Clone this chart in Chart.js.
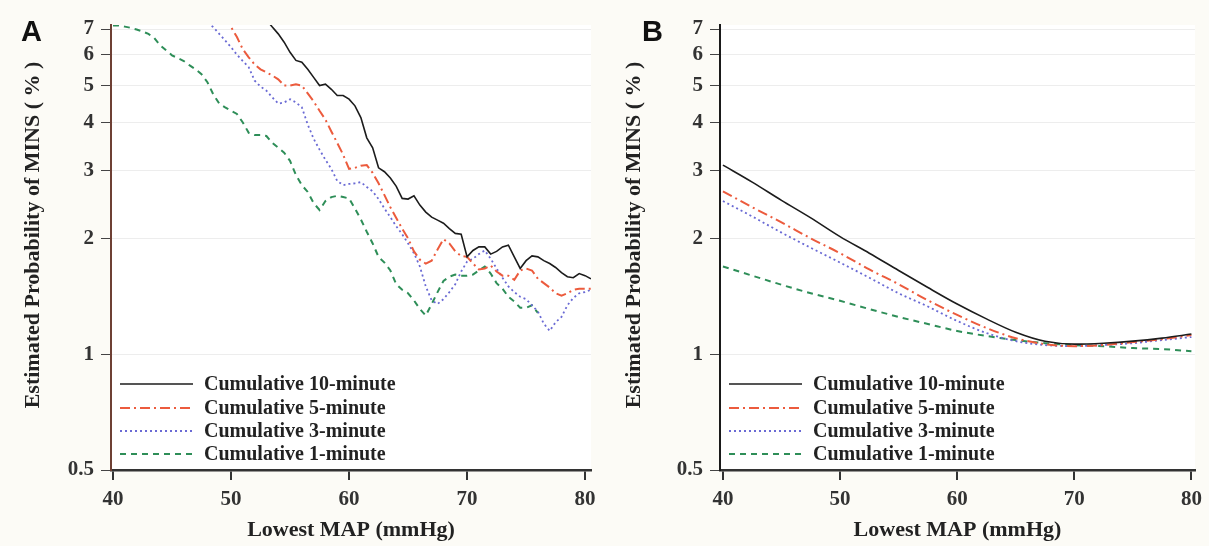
<!DOCTYPE html>
<html>
<head>
<meta charset="utf-8">
<script src="https://cdn.jsdelivr.net/npm/chart.js@4.4.1/dist/chart.umd.min.js"></script>
<style>
  html, body { margin: 0; padding: 0; background: #fcfbf6; }
  #wrap { position: relative; width: 1209px; height: 546px; }
  canvas { position: absolute; top: 0; }
  #panelA { left: 0; }
  #panelB { left: 604px; }
</style>
</head>
<body>
<div id="wrap">
  <canvas id="panelA" width="604" height="546"></canvas>
  <canvas id="panelB" width="605" height="546"></canvas>
</div>
<script>
// panel A: lowest MAP grid, 0.5 mmHg steps
const xA = [
  40, 40.5, 41, 41.5, 42, 42.5, 43, 43.5, 44, 44.5, 45, 45.5, 46, 46.5, 47, 47.5,
  48, 48.5, 49, 49.5, 50, 50.5, 51, 51.5, 52, 52.5, 53, 53.5, 54, 54.5, 55, 55.5,
  56, 56.5, 57, 57.5, 58, 58.5, 59, 59.5, 60, 60.5, 61, 61.5, 62, 62.5, 63, 63.5,
  64, 64.5, 65, 65.5, 66, 66.5, 67, 67.5, 68, 68.5, 69, 69.5, 70, 70.5, 71, 71.5,
  72, 72.5, 73, 73.5, 74, 74.5, 75, 75.5, 76, 76.5, 77, 77.5, 78, 78.5, 79, 79.5,
  80, 80.5,
];
const blackA = [
  null, null, null, null, null, null, null, null, null, null, null, null, null,
  null, null, null, null, null, null, null, null, null, null, null, null,
  8.2, 7.4, 7.08, 6.8, 6.47, 6.09, 5.8, 5.74, 5.5, 5.24,
  4.99, 5.03, 4.88, 4.7, 4.7, 4.6, 4.42, 4.12, 3.65, 3.44,
  3.05, 2.98, 2.87, 2.73, 2.54, 2.53, 2.58, 2.44, 2.34, 2.27,
  2.23, 2.19, 2.12, 2.06, 2.05, 1.79, 1.86, 1.9, 1.9, 1.82,
  1.85, 1.9, 1.92, 1.79, 1.67, 1.75, 1.8, 1.79, 1.75, 1.72,
  1.68, 1.63, 1.59, 1.58, 1.62, 1.6, 1.57,
];
const redA = [
  null, null, null, null, null, null, null, null, null, null, null, null, null,
  null, null, null, null, null,
  8.5, 7.6, 7.08, 6.67, 6.2, 5.91, 5.66, 5.5, 5.4, 5.3,
  5.18, 4.99, 4.99, 5.03, 4.99, 4.76, 4.54, 4.29, 4.07, 3.79,
  3.54, 3.3, 3.03, 3.05, 3.09, 3.1, 2.96, 2.78, 2.59, 2.41,
  2.26, 2.12, 2.0, 1.85, 1.76, 1.72, 1.75, 1.87, 1.99, 1.94,
  1.85, 1.8, 1.79, 1.72, 1.66, 1.67, 1.7, 1.64, 1.6, 1.6,
  1.56, 1.65, 1.67, 1.65, 1.57, 1.53, 1.49, 1.44, 1.42, 1.44,
  1.47, 1.48, 1.48, 1.48,
];
const blueA = [
  null, null, null, null, null, null, null, null, null, null, null, null, null, null,
  8.5, 7.5, 7.25, 7.08, 6.8, 6.54, 6.28, 6.0, 5.78, 5.57,
  5.14, 4.96, 4.84, 4.65, 4.48, 4.51, 4.6, 4.51, 4.38, 3.95,
  3.63, 3.4, 3.2, 3.03, 2.82, 2.75, 2.77, 2.78, 2.8, 2.72,
  2.65, 2.53, 2.39, 2.27, 2.15, 2.05, 1.94, 1.83, 1.69, 1.5,
  1.38, 1.35, 1.39, 1.45, 1.52, 1.64, 1.74, 1.77, 1.82, 1.86,
  1.77, 1.67, 1.58, 1.5, 1.45, 1.41, 1.39, 1.34, 1.29, 1.2,
  1.15, 1.21, 1.25, 1.34, 1.4, 1.44, 1.45, 1.47,
];
const greenA = [
  7.15, 7.15, 7.1, 7.05, 6.98, 6.9, 6.8, 6.63, 6.35, 6.16,
  5.98, 5.88, 5.78, 5.63, 5.5, 5.34, 5.09, 4.73, 4.48, 4.38,
  4.29, 4.21, 4.0, 3.76, 3.71, 3.71, 3.69, 3.54, 3.44, 3.34,
  3.18, 2.92, 2.75, 2.64, 2.47, 2.37, 2.5, 2.56, 2.58, 2.56,
  2.54, 2.39, 2.24, 2.08, 1.94, 1.79, 1.73, 1.65, 1.52, 1.47,
  1.44, 1.38, 1.31, 1.26, 1.35, 1.45, 1.55, 1.59, 1.61, 1.6,
  1.6, 1.61, 1.65, 1.69, 1.62, 1.53, 1.48, 1.41, 1.37, 1.32,
  1.32, 1.34, 1.28,
  null, null, null, null, null, null, null, null, null,
];

// panel B: smooth model curves, 2.5 mmHg steps
const xB = [40, 42.5, 45, 47.5, 50, 52.5, 55, 57.5, 60, 62.5, 65, 67.5, 70, 72.5, 75, 77.5, 80];
const blackB = [3.1, 2.8, 2.51, 2.26, 2.02, 1.83, 1.65, 1.49, 1.35, 1.235, 1.14, 1.08, 1.062, 1.068, 1.081, 1.101, 1.128];
const redB = [2.65, 2.41, 2.2, 2.0, 1.83, 1.66, 1.52, 1.38, 1.265, 1.17, 1.1, 1.062, 1.049, 1.056, 1.075, 1.094, 1.121];
const blueB = [2.5, 2.28, 2.07, 1.89, 1.73, 1.58, 1.44, 1.33, 1.22, 1.135, 1.081, 1.056, 1.049, 1.056, 1.068, 1.088, 1.108];
const greenB = [1.69, 1.6, 1.515, 1.44, 1.376, 1.31, 1.25, 1.198, 1.149, 1.115, 1.088, 1.068, 1.056, 1.049, 1.037, 1.031, 1.018];

const seriesNames = ["Cumulative 10-minute", "Cumulative 5-minute", "Cumulative 3-minute", "Cumulative 1-minute"];
const yTicks = [0.5, 1, 2, 3, 4, 5, 6, 7];
const xTicks = [40, 50, 60, 70, 80];

const serif = '"Liberation Serif", "Times New Roman", Times, serif';

const styles = [
  { borderColor: "#1c1c1c", borderWidth: 1.6, borderDash: [] },
  { borderColor: "#ec5b3d", borderWidth: 2, borderDash: [10, 4, 2, 4] },
  { borderColor: "#6a6ad4", borderWidth: 1.8, borderDash: [2, 3] },
  { borderColor: "#2e8e58", borderWidth: 2, borderDash: [6, 5] },
];

// legend inside plot, y title and panel letter
const decor = {
  id: "decor",
  beforeDraw(chart) {
    const { ctx, chartArea } = chart;
    ctx.save();
    ctx.fillStyle = "#ffffff";
    ctx.fillRect(chartArea.left, chartArea.top, chartArea.right - chartArea.left, chartArea.bottom - chartArea.top);
    ctx.restore();
  },
  afterDraw(chart, args, opts) {
    const { ctx, chartArea } = chart;
    ctx.save();
    chart.data.datasets.forEach((ds, i) => {
      const y = chartArea.bottom - opts.rows[i];
      ctx.beginPath();
      ctx.strokeStyle = ds.borderColor;
      ctx.lineWidth = ds.borderWidth;
      ctx.setLineDash(ds.borderDash);
      ctx.moveTo(chartArea.left + 9, y);
      ctx.lineTo(chartArea.left + 82, y);
      ctx.stroke();
      ctx.setLineDash([]);
      ctx.fillStyle = "#222";
      ctx.font = "bold 20px " + serif;
      ctx.textBaseline = "middle";
      ctx.textAlign = "left";
      ctx.fillText(ds.label, chartArea.left + 93, y + 1);
    });

    ctx.fillStyle = "#111";
    ctx.font = 'bold 29px "Liberation Sans", Arial, sans-serif';
    ctx.textBaseline = "alphabetic";
    ctx.fillText(opts.letter, opts.letterX, 41);

    ctx.translate(opts.titleX, opts.titleY);
    ctx.rotate(-Math.PI / 2);
    ctx.textAlign = "center";
    ctx.textBaseline = "middle";
    ctx.fillStyle = "#222";
    ctx.font = "bold 22px " + serif;
    ctx.fillText("Estimated Probability of MINS ( % )", 0, 0);
    ctx.restore();
  },
};

function makePanel(id, xs, ys, cfg) {
  return new Chart(document.getElementById(id), {
    type: "line",
    data: {
      datasets: ys.map((vals, k) => ({
        label: seriesNames[k],
        data: xs.map((x, i) => ({ x: x, y: vals[i] })),
        borderColor: styles[k].borderColor,
        borderWidth: styles[k].borderWidth,
        borderDash: styles[k].borderDash,
        pointRadius: 0,
        fill: false,
        tension: cfg.smooth ? 0.4 : 0,
        cubicInterpolationMode: cfg.smooth ? "monotone" : "default",
      })),
    },
    options: {
      responsive: false,
      animation: false,
      devicePixelRatio: 1,
      layout: {
        padding: { top: 25, right: cfg.padRight, bottom: 0, left: 0 },
      },
      plugins: {
        legend: { display: false },
        tooltip: { enabled: false },
        decor: {
          rows: [86, 62, 39, 16],
          letter: cfg.letter,
          letterX: cfg.letterX,
          titleX: cfg.titleX,
          titleY: 235,
        },
      },
      scales: {
        x: {
          type: "linear",
          min: cfg.xMin,
          max: cfg.xMax,
          afterBuildTicks: (s) => {
            s.ticks = xTicks.map((v) => ({ value: v }));
          },
          afterFit: (s) => {
            s.height = 76;
          },
          ticks: {
            autoSkip: false,
            padding: 7,
            color: "#333",
            font: { family: serif, size: 21, weight: "bold" },
          },
          grid: {
            drawOnChartArea: false,
            drawTicks: true,
            tickLength: 10,
            tickColor: "#333",
            lineWidth: 2,
          },
          border: { color: "#333", width: 2.5 },
          title: {
            display: true,
            text: "Lowest MAP (mmHg)",
            color: "#222",
            font: { family: serif, size: 22, weight: "bold" },
            padding: { top: 0, bottom: 2 },
          },
        },
        y: {
          type: "logarithmic",
          min: 0.5,
          max: 7.17,
          afterBuildTicks: (s) => {
            s.ticks = yTicks.map((v) => ({ value: v }));
          },
          afterFit: (s) => {
            s.width = cfg.yWidth;
          },
          ticks: {
            autoSkip: false,
            padding: 7,
            color: "#333",
            font: { family: serif, size: 21, weight: "bold" },
            callback: (v) => String(v),
          },
          grid: {
            color: "#ededed",
            lineWidth: 1,
            tickLength: 10,
            tickColor: "#444",
          },
          border: { color: cfg.spine, width: 2 },
        },
      },
    },
    plugins: [decor],
  });
}

makePanel("panelA", xA, [blackA, redA, blueA, greenA], {
  letter: "A", letterX: 21, titleX: 33, yWidth: 111, padRight: 13,
  xMin: 39.83, xMax: 80.5, spine: "#6e4034", smooth: false,
});
makePanel("panelB", xB, [blackB, redB, blueB, greenB], {
  letter: "B", letterX: 38, titleX: 30, yWidth: 116, padRight: 12,
  xMin: 39.75, xMax: 80.3, spine: "#1a1a1a", smooth: true,
});
</script>
</body>
</html>
